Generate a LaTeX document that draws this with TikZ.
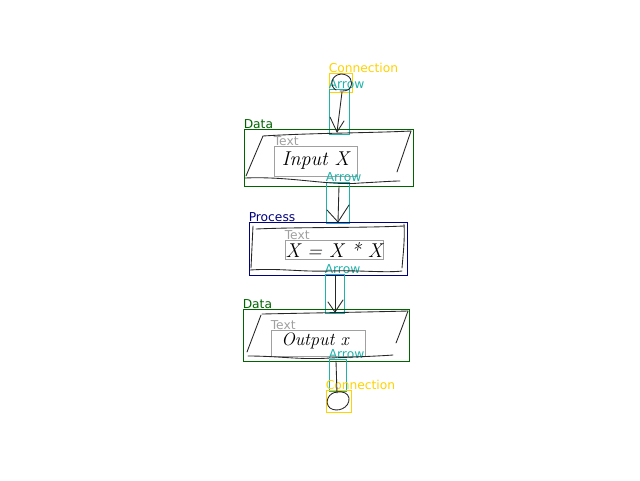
\documentclass[tikz,border=0pt]{standalone}
\usepackage{fontspec}
\newfontfamily\lblfont{DejaVu Sans}
\usetikzlibrary{fit}
\definecolor{cconn}{RGB}{255,210,0}
\definecolor{carrow}{RGB}{32,178,170}
\definecolor{cdata}{RGB}{0,100,0}
\definecolor{cproc}{RGB}{0,0,128}
\definecolor{ctext}{RGB}{160,160,160}
\tikzset{
  annot/.style 2 args={draw=#1, line width=0.75pt, inner sep=0pt,
    label={[anchor=south west, inner sep=0pt, text=#1, font=\lblfont\fontsize{9.2}{10}\selectfont]north west:#2}},
  sketch/.style={draw=black!85, line width=0.65pt, line cap=round, line join=round},
  hand/.style={font=\itshape\fontsize{15}{16}\selectfont, inner sep=0pt}
}
\begin{document}
\begin{tikzpicture}[x=0.75pt,y=-0.75pt]
\useasboundingbox (0,0) rectangle (640,480);
% annotation boxes
\node[annot={cconn}{Connection}, fit={(329,73) (352,92)}] (conn1) {};
\node[annot={carrow}{Arrow}, fit={(329,89) (349,134)}] (arr1) {};
\node[annot={cdata}{Data}, fit={(244,129) (413,186)}] (data1) {};
\node[annot={ctext}{Text}, fit={(274,146) (357,176)}] (text1) {};
\node[annot={carrow}{Arrow}, fit={(326,182) (349,223)}] (arr2) {};
\node[annot={cproc}{Process}, fit={(249,222) (407,275)}] (proc) {};
\node[annot={ctext}{Text}, fit={(285,240) (383,259)}] (text2) {};
\node[annot={carrow}{Arrow}, fit={(325,274) (344,313)}] (arr3) {};
\node[annot={cdata}{Data}, fit={(243,309) (409,361)}] (data2) {};
\node[annot={ctext}{Text}, fit={(271,330) (365,356)}] (text3) {};
\node[annot={carrow}{Arrow}, fit={(329,359) (346,391)}] (arr4) {};
\node[annot={cconn}{Connection}, fit={(326,390) (351,412)}] (conn2) {};
% handwritten texts
\node[hand] (t1) at (text1.center) {Input X};
\node[hand] (t2) at (text2.center) {X = X * X};
\node[hand, font=\itshape\fontsize{13.5}{15}\selectfont] (t3) at (315,341) {Output x};
% sketched shapes
\draw[sketch] (336,90) .. controls (329,86) and (331,75) .. (341,74) .. controls (350,74) and (354,82) .. (350,88) .. controls (348,91) and (344,91) .. (340,91);
\draw[sketch] (263,136) .. controls (310,133) and (370,133) .. (411,131);
\draw[sketch] (411,131) -- (397,172);
\draw[sketch] (263,136) -- (246,176);
\draw[sketch] (245,178) .. controls (290,176) and (330,186) .. (360,183) .. controls (380,182) and (392,181) .. (400,181);
\draw[sketch] (256,229) .. controls (300,227) and (360,228) .. (404,226);
\draw[sketch] (253,226) -- (251,268);
\draw[sketch] (404,224) .. controls (405,240) and (403,255) .. (402,268);
\draw[sketch] (250,270) .. controls (280,268) and (300,272) .. (330,271) .. controls (360,270) and (385,273) .. (402,271);
\draw[sketch] (262,314) .. controls (310,313) and (370,312) .. (408,311);
\draw[sketch] (408,311) .. controls (404,322) and (400,333) .. (396,343);
\draw[sketch] (261,315) -- (247,352);
\draw[sketch] (248,356) .. controls (280,356) and (300,360) .. (330,358) .. controls (355,357) and (380,356) .. (393,355);
\draw[sketch] (338,392) .. controls (328,392) and (324,403) .. (330,408) .. controls (337,413) and (350,408) .. (349,398) .. controls (348,393) and (343,391) .. (336,392);
% sketched arrows
\coordinate (a1s) at (342,92); \coordinate (a1t) at (337,132);
\draw[sketch] (a1s) -- (a1t);
\draw[sketch] (330,117) -- (a1t) -- (344,121);
\coordinate (a2s) at (339,186); \coordinate (a2t) at (338,222);
\draw[sketch] (a2s) -- (a2t);
\draw[sketch] (327,210) -- (a2t) -- (349,205);
\coordinate (a3s) at (335,276); \coordinate (a3t) at (335,312);
\draw[sketch] (a3s) -- (a3t);
\draw[sketch] (328,302) -- (a3t) -- (343,300);
\coordinate (a4s) at (336,361); \coordinate (a4t) at (337,393);
\draw[sketch] (a4s) -- (a4t);
\end{tikzpicture}
\end{document}
